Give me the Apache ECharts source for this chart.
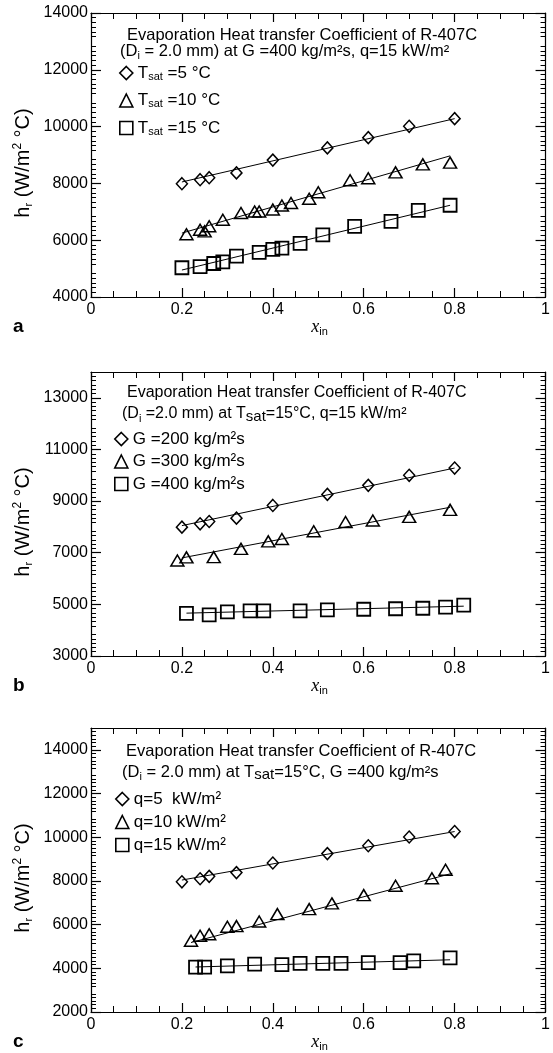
<!DOCTYPE html>
<html>
<head>
<meta charset="utf-8">
<script src="https://cdn.jsdelivr.net/npm/echarts@6/dist/echarts.min.js"></script>
<style>
  html, body { margin: 0; padding: 0; background: #fff; }
  #chart { width: 553px; height: 1053px; }
</style>
</head>
<body>
<div id="chart"></div>
<script>
// ---- (a) effect of saturation temperature, G = 400 kg/m2s, q = 15 kW/m2 ----
const xA_T5  = [0.20, 0.24, 0.26, 0.32, 0.40, 0.52, 0.61, 0.70, 0.80];
const hA_T5  = [7990, 8130, 8200, 8370, 8820, 9250, 9610, 10010, 10280];
const xA_T10 = [0.21, 0.24, 0.25, 0.26, 0.29, 0.33, 0.36, 0.37, 0.40, 0.42, 0.44, 0.48, 0.50, 0.57, 0.61, 0.67, 0.73, 0.79];
const hA_T10 = [6210, 6370, 6310, 6490, 6720, 6960, 7010, 7010, 7080, 7220, 7310, 7460, 7690, 8110, 8180, 8390, 8670, 8730];
const xA_T15 = [0.20, 0.24, 0.27, 0.29, 0.32, 0.37, 0.40, 0.42, 0.46, 0.51, 0.58, 0.66, 0.72, 0.79];
const hA_T15 = [5030, 5070, 5180, 5240, 5440, 5570, 5680, 5720, 5890, 6190, 6490, 6660, 7050, 7230];
const fitA_T5  = [[0.20, 8050], [0.80, 10280]];
const fitA_T10 = [[0.20, 6250], [0.79, 8970]];
const fitA_T15 = [[0.20, 4950], [0.79, 7230]];

// ---- (b) effect of mass flux, Tsat = 15 C, q = 15 kW/m2 ----
const xB_G200 = [0.20, 0.24, 0.26, 0.32, 0.40, 0.52, 0.61, 0.70, 0.80];
const hB_G200 = [7990, 8120, 8210, 8340, 8830, 9260, 9610, 10000, 10280];
const xB_G300 = [0.19, 0.21, 0.27, 0.33, 0.39, 0.42, 0.49, 0.56, 0.62, 0.70, 0.79];
const hB_G300 = [6700, 6820, 6830, 7150, 7440, 7530, 7830, 8190, 8250, 8390, 8660];
const xB_G400 = [0.21, 0.26, 0.30, 0.35, 0.38, 0.46, 0.52, 0.60, 0.67, 0.73, 0.78, 0.82];
const hB_G400 = [4650, 4590, 4710, 4750, 4750, 4750, 4790, 4810, 4830, 4850, 4890, 4970];
const fitB_G200 = [[0.20, 8050], [0.80, 10280]];
const fitB_G300 = [[0.20, 6800], [0.79, 8760]];
const fitB_G400 = [[0.21, 4660], [0.82, 4930]];

// ---- (c) effect of heat flux, Tsat = 15 C, G = 400 kg/m2s ----
const xC_q5  = [0.20, 0.24, 0.26, 0.32, 0.40, 0.52, 0.61, 0.70, 0.80];
const hC_q5  = [7960, 8100, 8210, 8380, 8820, 9250, 9610, 10010, 10260];
const xC_q10 = [0.22, 0.24, 0.26, 0.30, 0.32, 0.37, 0.41, 0.48, 0.53, 0.60, 0.67, 0.75, 0.78];
const hC_q10 = [5260, 5490, 5560, 5900, 5930, 6140, 6480, 6710, 6970, 7350, 7780, 8120, 8510];
const xC_q15 = [0.23, 0.25, 0.30, 0.36, 0.42, 0.46, 0.51, 0.55, 0.61, 0.68, 0.71, 0.79];
const hC_q15 = [4050, 4050, 4110, 4190, 4170, 4230, 4230, 4230, 4260, 4260, 4340, 4480];
const fitC_q5  = [[0.20, 8040], [0.80, 10260]];
const fitC_q10 = [[0.22, 5180], [0.795, 8350]];
const fitC_q15 = [[0.23, 4060], [0.79, 4390]];

// axis tick labels
const xTicks  = [0, 0.2, 0.4, 0.6, 0.8, 1];
const yTicksA = [4000, 6000, 8000, 10000, 12000, 14000];
const yTicksB = [3000, 5000, 7000, 9000, 11000, 13000];
const yTicksC = [2000, 4000, 6000, 8000, 10000, 12000, 14000];

const FONT = '"Liberation Sans", Arial, Helvetica, sans-serif';
const SERIF = '"Liberation Serif", "Times New Roman", serif';
const BLACK = '#000';

const zip = (xs, ys) => xs.map((x, i) => [x, ys[i]]);

const MARK = {
  diamond:  { symbol: 'diamond',  size: [11, 12], icon: 'diamond' },
  triangle: { symbol: 'triangle', size: [13, 11], icon: 'triangle' },
  square:   { symbol: 'rect',     size: [13, 13], icon: 'rect' }
};

const panels = [
  {
    top: 13, yMin: 4000, yMax: 14000, yTicks: yTicksA,
    title: [
      { x: 127, y: 35, text: 'Evaporation Heat transfer Coefficient of R-407C' },
      { x: 120, y: 51, text: '(D{sub|i} = 2.0 mm) at G =400 kg/m²s, q=15 kW/m²' }
    ],
    legend: { left: 119, top: 64, gap: 9.5 },
    groups: [
      { name: 'T5',  label: 'T{sub|sat} =5 °C',  mark: 'diamond',  x: xA_T5,  h: hA_T5,  fit: fitA_T5 },
      { name: 'T10', label: 'T{sub|sat} =10 °C', mark: 'triangle', x: xA_T10, h: hA_T10, fit: fitA_T10 },
      { name: 'T15', label: 'T{sub|sat} =15 °C', mark: 'square',   x: xA_T15, h: hA_T15, fit: fitA_T15 }
    ],
    letter: 'a'
  },
  {
    top: 372, yMin: 3000, yMax: 14000, yTicks: yTicksB,
    title: [
      { x: 127, y: 393, text: 'Evaporation Heat transfer Coefficient of R-407C' },
      { x: 122, y: 414, text: '(D{sub|i} =2.0 mm) at T{subL|sat}=15°C, q=15 kW/m²' }
    ],
    legend: { left: 114, top: 430, gap: 4.5 },
    groups: [
      { name: 'G200', label: 'G =200 kg/m²s', mark: 'diamond',  x: xB_G200, h: hB_G200, fit: fitB_G200 },
      { name: 'G300', label: 'G =300 kg/m²s', mark: 'triangle', x: xB_G300, h: hB_G300, fit: fitB_G300 },
      { name: 'G400', label: 'G =400 kg/m²s', mark: 'square',   x: xB_G400, h: hB_G400, fit: fitB_G400 }
    ],
    letter: 'b'
  },
  {
    top: 728, yMin: 2000, yMax: 15000, yTicks: yTicksC,
    title: [
      { x: 126, y: 751, text: 'Evaporation Heat transfer Coefficient of R-407C' },
      { x: 122, y: 772, text: '(D{sub|i} = 2.0 mm) at T{subL|sat}=15°C, G =400 kg/m²s' }
    ],
    legend: { left: 115, top: 790, gap: 5 },
    groups: [
      { name: 'q5',  label: 'q=5  kW/m²', mark: 'diamond',  x: xC_q5,  h: hC_q5,  fit: fitC_q5 },
      { name: 'q10', label: 'q=10 kW/m²', mark: 'triangle', x: xC_q10, h: hC_q10, fit: fitC_q10 },
      { name: 'q15', label: 'q=15 kW/m²', mark: 'square',   x: xC_q15, h: hC_q15, fit: fitC_q15 }
    ],
    letter: 'c'
  }
];

const GRID_LEFT = 91, GRID_W = 457, GRID_H = 284;

const richText = {
  sub:  { fontSize: 11, fontFamily: FONT, fill: BLACK, color: BLACK, lineHeight: 11, verticalAlign: 'bottom' },
  subL: { fontSize: 15, fontFamily: FONT, fill: BLACK, color: BLACK, lineHeight: 14, verticalAlign: 'bottom' },
  sup:  { fontSize: 12, fontFamily: FONT, fill: BLACK, color: BLACK, lineHeight: 12, verticalAlign: 'top' },
  xi:   { fontSize: 18, fontFamily: SERIF, fontStyle: 'italic', fill: BLACK, color: BLACK, lineHeight: 20 }
};

const grid = [], xAxis = [], yAxis = [], series = [], legend = [], graphic = [];

const lineStyle = { color: BLACK, width: 1.2 };

panels.forEach((p, i) => {
  grid.push({ left: GRID_LEFT, top: p.top, width: GRID_W, height: GRID_H, containLabel: false });

  const xCommon = {
    type: 'value', gridIndex: i, min: xTicks[0], max: xTicks[xTicks.length - 1], interval: 0.2,
    axisLine: { show: true, onZero: false, lineStyle },
    axisTick: { show: true, inside: true, length: 9, lineStyle },
    minorTick: { show: true, splitNumber: 4, length: 6, lineStyle: { color: BLACK, width: 1 } },
    splitLine: { show: false }, minorSplitLine: { show: false }
  };
  xAxis.push(Object.assign({}, xCommon, {
    position: 'bottom',
    axisLabel: {
      show: true, color: BLACK, fontSize: 16, fontFamily: FONT, margin: 5,
      formatter: v => (v === 0 || v === 1) ? String(v) : v.toFixed(1)
    }
  }));
  xAxis.push(Object.assign({}, xCommon, { position: 'top', axisLabel: { show: false } }));

  const yCommon = {
    type: 'value', gridIndex: i, min: p.yMin, max: p.yMax, interval: 1000,
    axisLine: { show: true, onZero: false, lineStyle },
    axisTick: { show: true, inside: true, length: 10, lineStyle, customValues: p.yTicks },
    minorTick: { show: true, splitNumber: 6, length: 5, lineStyle: { color: BLACK, width: 1 } },
    splitLine: { show: false }, minorSplitLine: { show: false }
  };
  yAxis.push(Object.assign({}, yCommon, {
    position: 'left',
    axisLabel: {
      show: true, color: BLACK, fontSize: 16, fontFamily: FONT, margin: 3,
      customValues: p.yTicks, formatter: v => String(v)
    }
  }));
  yAxis.push(Object.assign({}, yCommon, { position: 'right', axisLabel: { show: false } }));

  const labelMap = {};
  p.groups.forEach(g => {
    const m = MARK[g.mark];
    labelMap[g.name] = g.label;
    series.push({
      type: 'line', xAxisIndex: 2 * i, yAxisIndex: 2 * i, data: g.fit,
      symbol: 'none', silent: true, z: 2,
      lineStyle: { color: BLACK, width: 1 }
    });
    series.push({
      type: 'scatter', name: g.name, xAxisIndex: 2 * i, yAxisIndex: 2 * i,
      data: zip(g.x, g.h), symbol: m.symbol, symbolSize: m.size, z: 3,
      itemStyle: { color: 'rgba(255,255,255,0)', borderColor: BLACK, borderWidth: g.mark === 'square' ? 1.8 : 1.5, opacity: 1 }
    });
  });

  legend.push({
    orient: 'vertical', left: p.legend.left, top: p.legend.top,
    itemWidth: 13, itemHeight: 13, itemGap: p.legend.gap, padding: 0,
    selectedMode: false,
    data: p.groups.map(g => ({
      name: g.name, icon: MARK[g.mark].icon,
      itemStyle: { color: 'rgba(255,255,255,0)', borderColor: BLACK, borderWidth: 1.6 }
    })),
    formatter: n => labelMap[n],
    textStyle: { color: BLACK, fontSize: 17, fontFamily: FONT, lineHeight: 18, rich: richText }
  });

  // heading lines inside the plot
  p.title.forEach(t => {
    graphic.push({
      type: 'text', x: t.x, y: t.y, z: 10,
      style: {
        text: t.text, fill: BLACK, fontSize: (i === 1 ? 16 : 16.5), fontFamily: FONT,
        align: 'left', verticalAlign: 'middle', lineHeight: 20, rich: richText
      }
    });
  });

  const bottom = p.top + GRID_H;
  // panel letter
  graphic.push({
    type: 'text', x: 13, y: bottom + 30, z: 10,
    style: { text: p.letter, fill: BLACK, fontSize: 19, fontWeight: 'bold', fontFamily: FONT, align: 'left', verticalAlign: 'middle' }
  });
  // x-axis name
  graphic.push({
    type: 'text', x: GRID_LEFT + GRID_W / 2, y: bottom + 30, z: 10,
    style: { text: '{xi|x}{sub|in}', fill: BLACK, fontSize: 16, fontFamily: FONT, align: 'center', verticalAlign: 'middle', lineHeight: 20, rich: richText }
  });
  // y-axis name
  graphic.push({
    type: 'text', x: 23, y: p.top + GRID_H / 2 + 8, rotation: Math.PI / 2, z: 10,
    style: { text: 'h{sub|r} (W/m{sup|2} °C)', fill: BLACK, fontSize: 20, fontFamily: FONT, align: 'center', verticalAlign: 'middle', lineHeight: 22, rich: richText }
  });
});

const chart = echarts.init(document.getElementById('chart'), null, { renderer: 'canvas' });
chart.setOption({
  backgroundColor: '#fff',
  animation: false,
  grid, xAxis, yAxis, series, legend, graphic
});
</script>
</body>
</html>
